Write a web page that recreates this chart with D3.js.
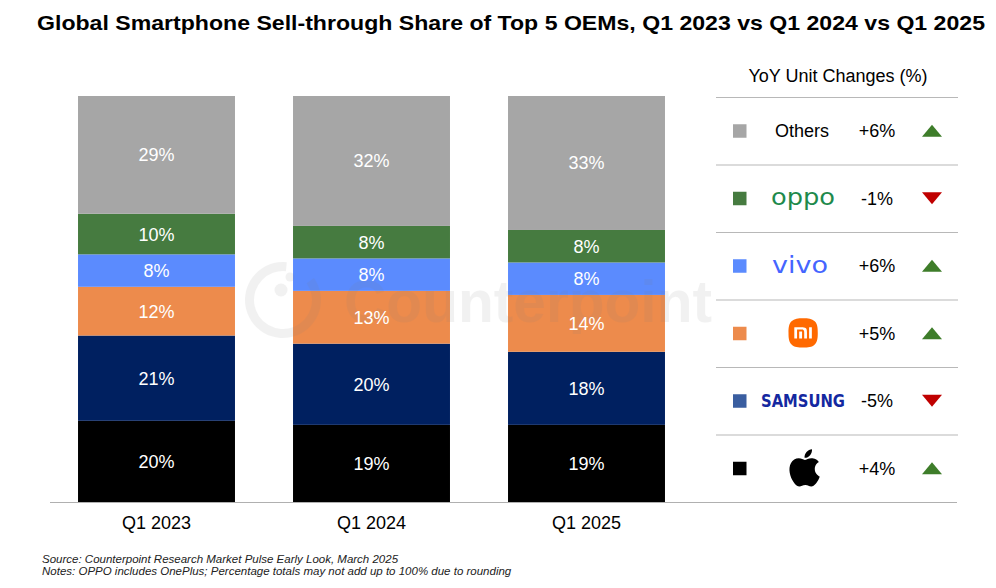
<!DOCTYPE html>
<html><head><meta charset="utf-8">
<script src="https://cdn.jsdelivr.net/npm/d3@7"></script>
<style>
html,body{margin:0;padding:0;background:#fff;}
svg{display:block;font-family:"Liberation Sans",Arial,sans-serif;}
</style></head>
<body>
<svg id="chart" width="996" height="588"></svg>
<script>
// ---- data ----
const categories = ["Q1 2023", "Q1 2024", "Q1 2025"];
const brands = ["Apple", "Samsung", "Xiaomi", "vivo", "OPPO", "Others"]; // bottom -> top
const appleShare   = [20, 19, 19];
const samsungShare = [21, 20, 18];
const xiaomiShare  = [12, 13, 14];
const vivoShare    = [8, 8, 8];
const oppoShare    = [10, 8, 8];
const othersShare  = [29, 32, 33];
const yoyChange    = ["+4%", "-5%", "+5%", "+6%", "-1%", "+6%"]; // same order as brands
const legendOrder  = ["Others", "OPPO", "vivo", "Xiaomi", "Samsung", "Apple"];
const titleText = "Global Smartphone Sell-through Share of Top 5 OEMs, Q1 2023 vs Q1 2024 vs Q1 2025";
const legendTitle = "YoY Unit Changes (%)";
const notes = ["Source: Counterpoint Research Market Pulse Early Look, March 2025",
               "Notes: OPPO includes OnePlus; Percentage totals may not add up to 100% due to rounding"];

const barColors = {Apple:"#000000", Samsung:"#002060", Xiaomi:"#ED8B4C", vivo:"#5B8BFE", OPPO:"#467B40", Others:"#A6A6A6"};
const legendColors = {Apple:"#000000", Samsung:"#3A5EA0", Xiaomi:"#ED8B4C", vivo:"#5B8BFE", OPPO:"#467B40", Others:"#A6A6A6"};

const shareByBrand = {Apple:appleShare, Samsung:samsungShare, Xiaomi:xiaomiShare, vivo:vivoShare, OPPO:oppoShare, Others:othersShare};
const table = categories.map((c, i) => {
  const row = {category: c};
  brands.forEach(b => row[b] = shareByBrand[b][i]);
  return row;
});

const svg = d3.select("#chart");

// title
svg.append("text").attr("x", 37).attr("y", 30)
  .attr("font-size", 21).attr("font-weight", "bold").attr("fill", "#000")
  .attr("textLength", 948).attr("lengthAdjust", "spacingAndGlyphs").text(titleText);

// scales
const x = d3.scaleBand().domain(categories).range([49, 694]).paddingInner(0.27).paddingOuter(0.135);
const y = d3.scaleLinear().domain([0, 100]).range([502, 96]);

const series = d3.stack().keys(brands)(table);

const barsG = svg.append("g");
series.forEach(s => {
  const key = s.key;
  barsG.selectAll(null).data(s).enter().append("rect")
    .attr("x", d => x(d.data.category))
    .attr("width", x.bandwidth())
    .attr("y", d => y(d[1]))
    .attr("height", d => y(d[0]) - y(d[1]))
    .attr("fill", barColors[key]);
});

// watermark (drawn over the bars, faint)
const wm = svg.append("g").attr("fill", "#808080").attr("opacity", 0.1);
wm.append("path").attr("transform", "translate(283,300)")
  .attr("d", d3.arc().innerRadius(29).outerRadius(38).startAngle(0.95).endAngle(Math.PI * 2 + 0.1)());
wm.append("circle").attr("cx", 281).attr("cy", 290).attr("r", 6.5);
wm.append("circle").attr("cx", 290).attr("cy", 277).attr("r", 4.5);
wm.append("text").attr("x", 344).attr("y", 322).attr("font-size", 59).attr("font-weight", "bold")
  .attr("textLength", 368).attr("lengthAdjust", "spacingAndGlyphs").text("Counterpoint");

// segment labels
const labelsG = svg.append("g");
series.forEach(s => {
  const key = s.key;
  labelsG.selectAll(null).data(s).enter().append("text")
    .attr("x", d => x(d.data.category) + x.bandwidth() / 2)
    .attr("y", d => (y(d[0]) + y(d[1])) / 2)
    .attr("dy", "0.36em")
    .attr("text-anchor", "middle")
    .attr("font-size", 18)
    .attr("fill", "#fff")
    .text(d => d.data[key] + "%");
});

// x axis
const xAxis = svg.append("g").attr("transform", "translate(0,502)")
  .call(d3.axisBottom(x).tickSize(0).tickPadding(14));
xAxis.select(".domain").remove();
xAxis.selectAll("text").attr("font-size", 18).attr("fill", "#000")
  .attr("font-family", "'Liberation Sans', Arial, sans-serif");
svg.append("line").attr("x1", 50).attr("x2", 957).attr("y1", 502.5).attr("y2", 502.5)
  .attr("stroke", "#b0b0b0").attr("stroke-width", 1.2);

// legend
svg.append("text").attr("x", 838).attr("y", 82).attr("text-anchor", "middle")
  .attr("font-size", 18).attr("fill", "#000").text(legendTitle);
const ly = d3.scaleBand().domain(legendOrder).range([97, 502]);
legendOrder.forEach(b => {
  svg.append("line").attr("x1", 716).attr("x2", 958)
    .attr("y1", ly(b) + 0.5).attr("y2", ly(b) + 0.5)
    .attr("stroke", "#b8b8b8").attr("stroke-width", 1.2);
});
legendOrder.forEach(b => {
  const cy = ly(b) + ly.bandwidth() / 2;
  const row = svg.append("g");
  row.append("rect").attr("x", 733).attr("y", cy - 6.5).attr("width", 13.5).attr("height", 13.5)
    .attr("fill", legendColors[b]);
  const v = yoyChange[brands.indexOf(b)];
  row.append("text").attr("x", 877).attr("y", cy).attr("dy", "0.36em").attr("text-anchor", "middle")
    .attr("font-size", 18).attr("fill", "#000").text(v);
  const up = v.startsWith("+");
  const tri = up ? "M-10,6 L10,6 L0,-6 Z" : "M-10,-6 L10,-6 L0,6 Z";
  row.append("path").attr("transform", `translate(932,${cy})`).attr("d", tri)
    .attr("fill", up ? "#3E7D2A" : "#C00000");
  // brand marks
  if (b === "Others") {
    row.append("text").attr("x", 802).attr("y", cy).attr("dy", "0.36em").attr("text-anchor", "middle")
      .attr("font-size", 18).attr("fill", "#000").text("Others");
  } else if (b === "OPPO") {
    row.append("text").attr("x", 803).attr("y", cy).attr("dy", "0.3em").attr("text-anchor", "middle")
      .attr("font-size", 23).attr("font-family", "'DejaVu Sans', sans-serif")
      .attr("textLength", 64).attr("lengthAdjust", "spacingAndGlyphs")
      .attr("fill", "#1E8A4C").text("oppo");
  } else if (b === "vivo") {
    row.append("text").attr("x", 800).attr("y", cy).attr("dy", "0.3em").attr("text-anchor", "middle")
      .attr("font-size", 23).attr("font-family", "'DejaVu Sans', sans-serif")
      .attr("textLength", 56).attr("lengthAdjust", "spacingAndGlyphs")
      .attr("fill", "#4565FF").text("vivo");
  } else if (b === "Xiaomi") {
    row.append("path").attr("transform", `translate(788.5,${cy - 15}) scale(1.22)`)
      .attr("fill", "#FF6900")
      .attr("d", "M12 0C8.016 0 4.756.255 2.493 2.516.23 4.776 0 8.033 0 12.012c0 3.98.23 7.235 2.494 9.497C4.757 23.77 8.017 24 12 24c3.983 0 7.243-.23 9.506-2.49C23.770 19.246 24 15.99 24 12.011c0-3.984-.233-7.245-2.502-9.504C19.234.252 15.978 0 12 0zM4.906 7.405h5.624c1.470 0 3.007.068 3.764.827.746.746.827 2.233.83 3.676v4.540a.15.15 0 0 1-.152.147h-1.947a.15.15 0 0 1-.152-.148V11.830c-.002-.806-.048-1.634-.464-2.051-.358-.36-1.026-.441-1.72-.458H7.158a.15.15 0 0 0-.151.147v6.980a.15.15 0 0 1-.152.148H4.906a.15.15 0 0 1-.15-.148V7.554a.15.15 0 0 1 .15-.149zm12.131 0h1.949a.15.15 0 0 1 .15.15v8.892a.15.15 0 0 1-.15.148h-1.949a.15.15 0 0 1-.151-.148V7.554a.15.15 0 0 1 .151-.149zM8.92 10.948h2.046c.083 0 .15.066.15.147v5.352a.15.15 0 0 1-.15.148H8.920a.15.15 0 0 1-.152-.148v-5.352a.15.15 0 0 1 .152-.147Z");
  } else if (b === "Samsung") {
    row.append("text").attr("x", 803).attr("y", cy).attr("dy", "0.36em").attr("text-anchor", "middle")
      .attr("font-size", 17).attr("font-weight", "bold").attr("font-family", "'DejaVu Sans', sans-serif")
      .attr("textLength", 84).attr("lengthAdjust", "spacingAndGlyphs")
      .attr("fill", "#1428A0").text("SAMSUNG");
  } else if (b === "Apple") {
    row.append("path").attr("transform", `translate(786,${cy - 19}) scale(1.55)`)
      .attr("fill", "#000")
      .attr("d", "M12.152 6.896c-.948 0-2.415-1.078-3.960-1.040-2.040.027-3.910 1.183-4.961 3.014-2.117 3.675-.546 9.103 1.519 12.090 1.013 1.454 2.208 3.090 3.792 3.039 1.520-.065 2.090-.987 3.935-.987 1.831 0 2.350.987 3.960.948 1.637-.026 2.676-1.480 3.676-2.948 1.156-1.688 1.636-3.325 1.662-3.415-.039-.013-3.182-1.221-3.220-4.857-.026-3.040 2.480-4.494 2.597-4.559-1.429-2.090-3.623-2.324-4.390-2.376-2-.156-3.675 1.090-4.610 1.090zM15.530 3.830c.843-1.012 1.400-2.427 1.245-3.830-1.207.052-2.662.805-3.532 1.818-.780.896-1.454 2.338-1.273 3.714 1.338.104 2.715-.688 3.559-1.701");
  }
});

// notes
notes.forEach((t, i) => {
  svg.append("text").attr("x", 42).attr("y", 563 + i * 11.5).attr("font-size", 11.5)
    .attr("font-style", "italic").attr("fill", "#222").text(t);
});
</script>
</body></html>
